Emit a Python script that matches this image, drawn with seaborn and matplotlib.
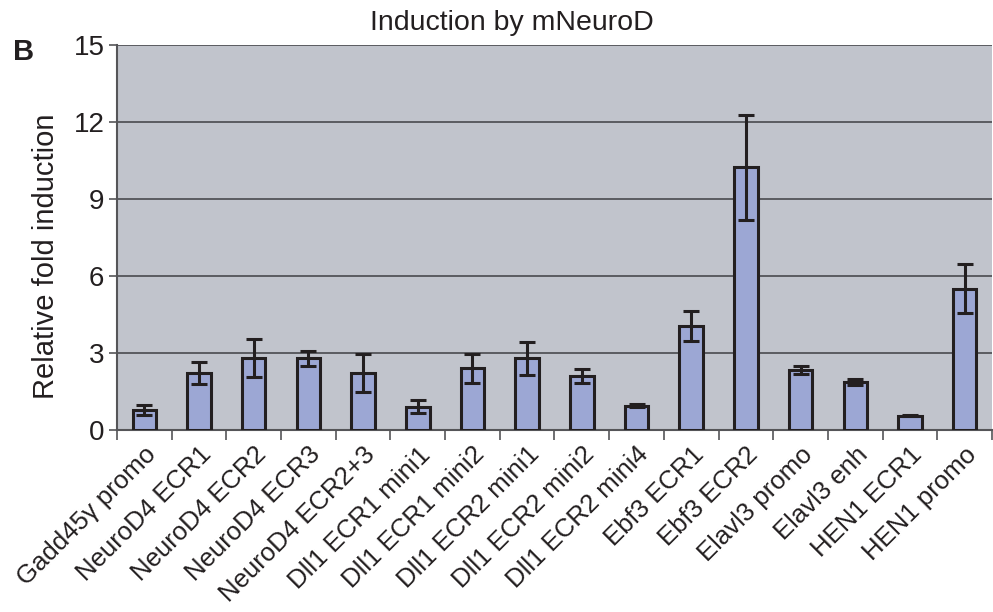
import matplotlib
matplotlib.use("Agg")
import matplotlib.pyplot as plt
from matplotlib.ticker import FixedLocator
import seaborn as sns
import pandas as pd
import numpy as np

constructs = [
    "Gadd45γ promo", "NeuroD4 ECR1", "NeuroD4 ECR2", "NeuroD4 ECR3",
    "NeuroD4 ECR2+3", "Dll1 ECR1 mini1", "Dll1 ECR1 mini2", "Dll1 ECR2 mini1",
    "Dll1 ECR2 mini2", "Dll1 ECR2 mini4", "Ebf3 ECR1", "Ebf3 ECR2",
    "Elavl3 promo", "Elavl3 enh", "HEN1 ECR1", "HEN1 promo",
]
fold_induction = [0.78, 2.22, 2.80, 2.80, 2.22, 0.91, 2.41, 2.79,
                  2.11, 0.95, 4.04, 10.24, 2.35, 1.87, 0.55, 5.50]
error = [0.20, 0.43, 0.75, 0.29, 0.74, 0.26, 0.56, 0.63,
         0.26, 0.05, 0.58, 2.05, 0.16, 0.11, 0.02, 0.96]
y_ticks = [0, 3, 6, 9, 12, 15]

df = pd.DataFrame({"construct": constructs, "fold": fold_induction, "err": error})

sns.set_theme(style="white")
plt.rcParams["font.family"] = ["Liberation Sans", "DejaVu Sans"]

fig = plt.figure(figsize=(9.93, 6.12), dpi=100)
ax = fig.add_axes([0.1178, 0.2974, 0.8812, 0.6291])
ax.set_facecolor("#c1c4cc")

sns.barplot(data=df, x="construct", y="fold", ax=ax, color="#9ca7d4",
            saturation=1, width=0.43, edgecolor="#231f20", linewidth=2.2,
            errorbar=None, zorder=3)
ax.errorbar(np.arange(len(constructs)), df["fold"], yerr=df["err"], fmt="none",
            ecolor="#231f20", elinewidth=2.2, capsize=6, capthick=2.2, zorder=4)

ax.set_ylim(0, 15)
ax.set_xlim(-0.5, len(constructs) - 0.5)
ax.set_yticks(y_ticks)
ax.yaxis.grid(True, color="#4a4a4e", linewidth=1.2, zorder=1)
ax.set_axisbelow(True)

for side in ["top", "right"]:
    ax.spines[side].set_visible(False)
ax.spines["left"].set_color("#555558")
ax.spines["left"].set_linewidth(1.5)
ax.spines["bottom"].set_color("#555558")
ax.spines["bottom"].set_linewidth(1.5)

ax.tick_params(axis="y", which="major", direction="out", length=6, width=1.2,
               color="#555558", labelsize=20, labelcolor="#231f20", pad=3, left=True)
ax.tick_params(axis="x", which="major", length=0, labelsize=18.5,
               labelcolor="#231f20", pad=9)
ax.xaxis.set_minor_locator(FixedLocator(np.arange(-0.5, len(constructs), 1.0)))
ax.tick_params(axis="x", which="minor", direction="out", length=7, width=1.2,
               color="#555558", bottom=True)

ax.set_xticks(range(len(constructs)))
ax.set_xticklabels(constructs, rotation=45, ha="right", rotation_mode="anchor")

ax.set_xlabel("")
ax.set_ylabel("Relative fold induction", fontsize=21, color="#231f20")
ax.yaxis.set_label_coords(-0.065, 0.45)
ax.set_title("Induction by mNeuroD", fontsize=20.5, color="#231f20", pad=11, x=0.451)

fig.text(0.024, 0.915, "B", fontsize=21, fontweight="bold", color="#231f20",
         ha="center", va="center")

fig.savefig("out.png", dpi=100)
